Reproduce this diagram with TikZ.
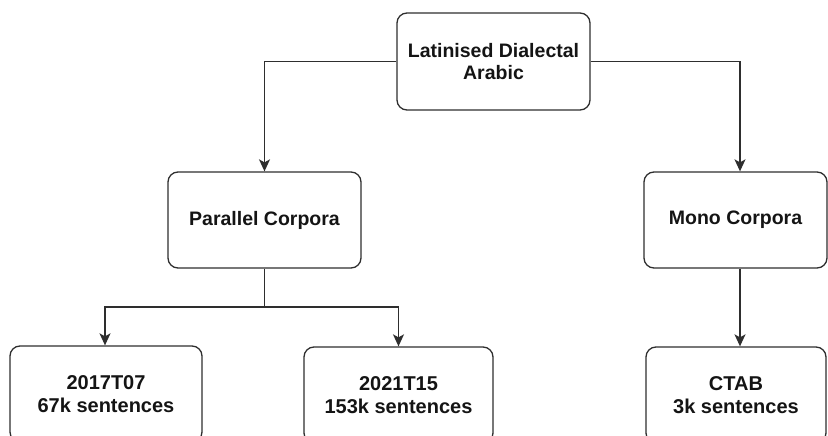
\documentclass[tikz,border=0pt]{standalone}
\usepackage{fontspec}
\setmainfont{Liberation Sans}
\usetikzlibrary{arrows.meta}
\definecolor{edge}{HTML}{2E2E2E}
\definecolor{ink}{HTML}{141414}
\begin{document}
\begin{tikzpicture}[x=1pt,y=-1pt,
  box/.style={draw=edge, line width=1.3pt, rounded corners=10pt, align=center,
    text=ink, font=\bfseries\fontsize{19.5}{22.5}\selectfont, inner sep=0pt},
  leaf/.style={box, font=\bfseries\fontsize{20}{22.5}\selectfont},
  wire/.style={draw=edge, line width=1.3pt},
  link/.style={wire, -{Stealth[length=12pt,width=11pt,inset=3pt]}}]
\useasboundingbox (0,0) rectangle (828,436);
\clip (0,0) rectangle (828,436);

% root
\node[box, minimum width=193pt, minimum height=97pt] (root) at (493.5,61.5)
  {Latinised Dialectal\\Arabic};

% second level
\node[box, minimum width=193pt, minimum height=96pt] (par) at (264.5,220)
  {Parallel Corpora};
\node[box, minimum width=183pt, minimum height=96pt] (mono) at (735.5,220)
  {Mono Corpora};

% leaves (run past the lower edge)
\node[leaf, minimum width=192pt, minimum height=96pt] (ldc1) at (106,394)
  {2017T07\\67k sentences};
\node[leaf, minimum width=189pt, minimum height=96pt] (ldc2) at (398.5,395)
  {2021T15\\153k sentences};
\node[leaf, minimum width=180pt, minimum height=96pt] (ctab) at (736,395)
  {CTAB\\3k sentences};

% connectors
\draw[link] (root.west) -| (par.north);
\draw[link] (root.east) -| ([xshift=4.5pt]mono.north);
\coordinate (fork) at (264.5,307);
\draw[wire] (par.south) -- (fork);
\draw[link] (fork) -| ([xshift=-1pt]ldc1.north);
\draw[link] (fork) -| (ldc2.north);
\draw[link] ([xshift=4.5pt]mono.south) -- ([xshift=4pt]ctab.north);
\end{tikzpicture}
\end{document}
